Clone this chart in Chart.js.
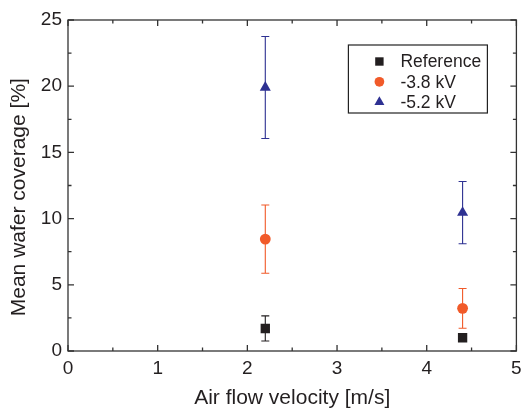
<!DOCTYPE html>
<html>
<head>
<meta charset="utf-8">
<script src="https://cdn.jsdelivr.net/npm/chart.js@4/dist/chart.umd.min.js"></script>
<style>
  html, body { margin: 0; padding: 0; background: #fff; }
  #wrap { width: 523px; height: 409px; }
</style>
</head>
<body>
<div id="wrap"><canvas id="chart" width="523" height="409"></canvas></div>
<script>
// values
const velocity = [2.2, 4.4];
const refMean = [1.7, 1.0];
const refErr = [0.95, 0.2];
const kv38Mean = [8.45, 3.22];
const kv38Err = [2.58, 1.5];
const kv52Mean = [19.9, 10.45];
const kv52Err = [3.85, 2.35];

const seriesLabels = ["Reference", "-3.8 kV", "-5.2 kV"];
const seriesColors = ["#231f20", "#f15a29", "#2e3192"];
const seriesShapes = ["rect", "circle", "triangle"];
const seriesRadius = [6.6, 5.4, 6.4];

const xTickValues = [0, 1, 2, 3, 4, 5];
const yTickValues = [0, 5, 10, 15, 20, 25];

const FONT = "'Liberation Sans', Arial, sans-serif";
const INK = "#231f20";

function points(means, errs){
  return velocity.map((x,i)=>({ x, y: means[i], err: errs[i] }));
}

const allData = [
  points(refMean, refErr),
  points(kv38Mean, kv38Err),
  points(kv52Mean, kv52Err)
];

const datasets = allData.map((data,i)=>({
  label: seriesLabels[i],
  data,
  pointStyle: seriesShapes[i],
  pointRadius: seriesRadius[i],
  pointHoverRadius: seriesRadius[i],
  backgroundColor: seriesColors[i],
  borderColor: seriesColors[i],
  borderWidth: 0,
  showLine: false
}));

// error bars, drawn under the markers
const errorBars = {
  id: "errorBars",
  beforeDatasetsDraw(chart){
    const {ctx, scales:{x, y}} = chart;
    ctx.save();
    ctx.lineWidth = 1.1;
    chart.data.datasets.forEach((ds,i)=>{
      ctx.strokeStyle = ds.borderColor;
      ds.data.forEach(p=>{
        const px = x.getPixelForValue(p.x);
        const top = y.getPixelForValue(p.y + p.err);
        const bot = y.getPixelForValue(p.y - p.err);
        ctx.beginPath();
        ctx.moveTo(px, top); ctx.lineTo(px, bot);
        ctx.moveTo(px - 4, top); ctx.lineTo(px + 4, top);
        ctx.moveTo(px - 4, bot); ctx.lineTo(px + 4, bot);
        ctx.stroke();
      });
    });
    ctx.restore();
  }
};

// box frame with inward ticks on all four sides
const frame = {
  id: "frame",
  afterDraw(chart){
    const {ctx, chartArea:a, scales:{x, y}} = chart;
    ctx.save();
    ctx.strokeStyle = "#333";
    ctx.lineWidth = 1.3;
    ctx.strokeRect(a.left, a.top, a.right - a.left, a.bottom - a.top);
    ctx.beginPath();
    xTickValues.forEach((v,i)=>{
      const px = x.getPixelForValue(v);
      ctx.moveTo(px, a.bottom); ctx.lineTo(px, a.bottom - 6);
      ctx.moveTo(px, a.top); ctx.lineTo(px, a.top + 6);
      if(i < xTickValues.length - 1){
        const m = x.getPixelForValue((v + xTickValues[i+1]) / 2);
        ctx.moveTo(m, a.bottom); ctx.lineTo(m, a.bottom - 3.5);
        ctx.moveTo(m, a.top); ctx.lineTo(m, a.top + 3.5);
      }
    });
    yTickValues.forEach((v,i)=>{
      const py = y.getPixelForValue(v);
      ctx.moveTo(a.left, py); ctx.lineTo(a.left + 6, py);
      ctx.moveTo(a.right, py); ctx.lineTo(a.right - 6, py);
      if(i < yTickValues.length - 1){
        const m = y.getPixelForValue((v + yTickValues[i+1]) / 2);
        ctx.moveTo(a.left, m); ctx.lineTo(a.left + 3.5, m);
        ctx.moveTo(a.right, m); ctx.lineTo(a.right - 3.5, m);
      }
    });
    ctx.stroke();
    ctx.restore();
  }
};

// boxed legend in the upper right of the plot
const boxLegend = {
  id: "boxLegend",
  afterDraw(chart){
    const {ctx, chartArea:a} = chart;
    const left = a.right - 168, top = a.top + 25;
    ctx.save();
    ctx.strokeStyle = "#222";
    ctx.lineWidth = 1.2;
    ctx.strokeRect(left, top, 139, 68);
    ctx.font = "17.5px " + FONT;
    ctx.textBaseline = "middle";
    ctx.textAlign = "left";
    chart.data.datasets.forEach((ds,i)=>{
      const ry = top + 16.5 + i * 20.3;
      ctx.fillStyle = ds.backgroundColor;
      Chart.helpers.drawPoint(ctx, {
        pointStyle: ds.pointStyle,
        radius: ds.pointRadius * 0.9,
        rotation: 0,
        borderWidth: 0
      }, left + 31, ry);
      ctx.fillStyle = INK;
      ctx.fillText(ds.label, left + 52, ry + 1);
    });
    ctx.restore();
  }
};

new Chart(document.getElementById("chart"), {
  type: "scatter",
  data: { datasets },
  options: {
    responsive: false,
    animation: false,
    devicePixelRatio: 1,
    layout: { padding: { top: 20, right: 4, left: 0, bottom: 0 } },
    plugins: {
      legend: { display: false },
      tooltip: { enabled: false }
    },
    scales: {
      x: {
        type: "linear",
        min: 0,
        max: 5,
        afterBuildTicks: s => { s.ticks = xTickValues.map(v=>({ value: v })); },
        afterFit: s => { s.height = 58; s.paddingLeft = 0; s.paddingRight = 0; },
        grid: { display: false, drawTicks: false },
        border: { display: false },
        ticks: {
          color: INK,
          font: { family: FONT, size: 19 },
          padding: 6,
          maxRotation: 0
        },
        title: {
          display: true,
          text: "Air flow velocity [m/s]",
          color: INK,
          font: { family: FONT, size: 21, lineHeight: 1 },
          padding: 0
        }
      },
      y: {
        type: "linear",
        min: 0,
        max: 25,
        afterBuildTicks: s => { s.ticks = yTickValues.map(v=>({ value: v })); },
        afterFit: s => { s.width = 68; s.paddingTop = 0; s.paddingBottom = 0; },
        grid: { display: false, drawTicks: false },
        border: { display: false },
        ticks: {
          color: INK,
          font: { family: FONT, size: 19 },
          padding: 6
        },
        title: {
          display: true,
          text: "Mean wafer coverage [%]\u00a0\u00a0\u00a0\u00a0",
          color: INK,
          font: { family: FONT, size: 21, lineHeight: 1 },
          padding: { top: 9, bottom: 0 }
        }
      }
    }
  },
  plugins: [errorBars, frame, boxLegend]
});
</script>
</body>
</html>
